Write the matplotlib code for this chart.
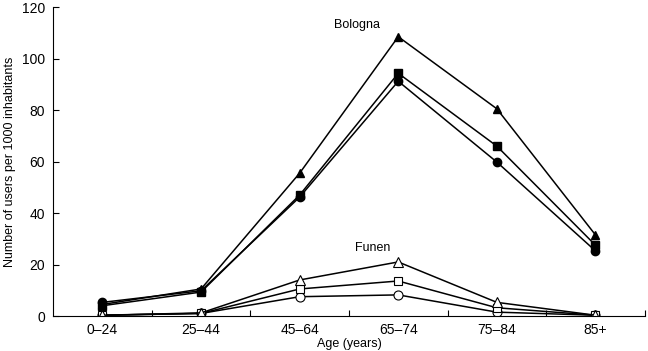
import matplotlib
matplotlib.use("Agg")
import matplotlib.pyplot as plt

plt.rcParams['font.family'] = ['Liberation Sans', 'DejaVu Sans']

ages = ["0\u201324", "25\u201344", "45\u201364", "65\u201374", "75\u201384", "85+"]

# Bologna (filled markers)
bol_tri = [4.5, 10.5, 55.5, 108.5, 80.5, 31.5]
bol_sq = [4.0, 9.3, 47.0, 94.3, 66.0, 27.5]
bol_circ = [5.3, 9.8, 46.2, 91.2, 59.8, 25.3]

# Funen (open markers)
fun_tri = [0.3, 1.2, 14.0, 21.0, 5.3, 0.3]
fun_sq = [0.3, 1.0, 10.5, 13.6, 3.2, 0.3]
fun_circ = [0.3, 1.0, 7.5, 8.2, 1.5, 0.3]

fig = plt.figure(figsize=(6.48, 3.51), dpi=100)
ax = fig.add_axes([0.082, 0.0997, 0.913, 0.880])

x = list(range(1, len(ages) + 1))
ms = 5.5
lw = 1.1

ax.plot(x, bol_tri, color="black", lw=lw, marker="^", ms=ms + 0.5, mfc="black", mec="black")
ax.plot(x, bol_sq, color="black", lw=lw, marker="s", ms=ms, mfc="black", mec="black")
ax.plot(x, bol_circ, color="black", lw=lw, marker="o", ms=ms + 0.5, mfc="black", mec="black")

ax.plot(x, fun_circ, color="black", lw=lw, marker="o", ms=ms + 1, mfc="white", mec="black", mew=0.8)
ax.plot(x, fun_sq, color="black", lw=lw, marker="s", ms=ms, mfc="white", mec="black", mew=0.8)
ax.plot(x, fun_tri, color="black", lw=lw, marker="^", ms=ms + 1, mfc="white", mec="black", mew=0.8)

ax.text(3.58, 113, "Bologna", fontsize=9, ha="center", va="center")
ax.text(3.74, 26.4, "Funen", fontsize=9, ha="center", va="center")

ax.set_xlim(0.5, 6.5)
ax.set_ylim(0, 120)
ax.set_yticks(range(0, 121, 20))
ax.set_xticks(x)
ax.set_xticklabels(ages)
ax.set_xticks([i + 0.5 for i in x], minor=True)
ax.tick_params(axis="x", which="major", length=0, labelsize=10, pad=5)
ax.tick_params(axis="x", which="minor", direction="in", length=4, width=0.8)
ax.tick_params(axis="y", direction="in", length=4, width=0.8, labelsize=10, pad=6)

for s in ["top", "right"]:
    ax.spines[s].set_visible(False)
for s in ["left", "bottom"]:
    ax.spines[s].set_linewidth(0.8)

ax.set_xlabel("Age (years)", fontsize=9, labelpad=1)
ax.set_ylabel("Number of users per 1000 inhabitants", fontsize=9, labelpad=4)

fig.savefig("out.png", dpi=100)
